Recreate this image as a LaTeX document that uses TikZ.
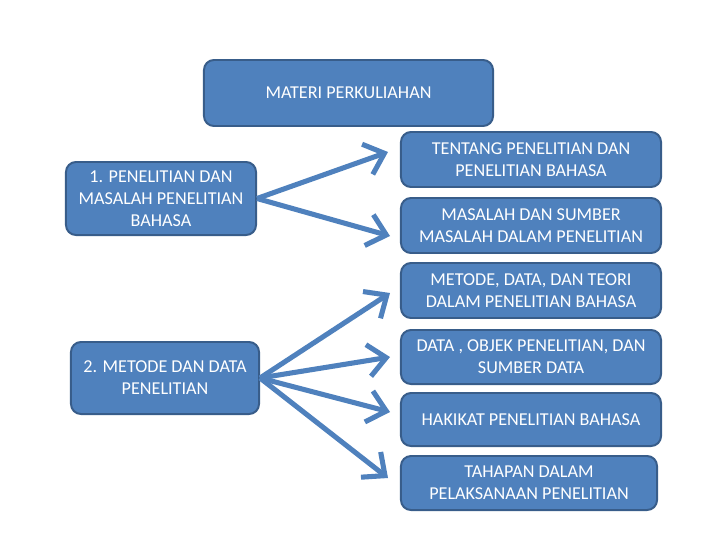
\documentclass[tikz,border=0pt]{standalone}
\usepackage{fontspec}
\setmainfont{Carlito}
\usepackage{tikz}
\usetikzlibrary{arrows.meta}

\definecolor{boxblue}{HTML}{4F81BD}
\definecolor{boxline}{HTML}{385D8A}

\tikzset{
	topic/.style={rectangle,rounded corners=0.25cm,draw=boxline,line width=1.4pt,fill=boxblue,
		text=white,align=center,inner sep=2pt,font=\fontsize{12.9}{15.6}\selectfont},
	link/.style={draw=boxblue,line width=3.6pt,-{Straight Barb[length=0.45cm,width=0.8cm,line width=3.6pt]}}
}

\begin{document}
\begin{tikzpicture}[x=0.025cm,y=-0.025cm]
		\useasboundingbox (0,0) rectangle (720,540);
		% judul
		\node[topic,minimum width=7.225cm,minimum height=1.65cm] (materi) at (348.5,93) {MATERI PERKULIAHAN};
		% pokok bahasan
		\node[topic,minimum width=4.75cm,minimum height=1.825cm] (pokok1) at (161,198.5) {1. PENELITIAN DAN\\MASALAH PENELITIAN\\BAHASA};
		\node[topic,minimum width=4.7cm,minimum height=1.8cm] (pokok2) at (165,378) {2. METODE DAN DATA\\PENELITIAN};
		% sub pokok bahasan
		\node[topic,minimum width=6.5cm,minimum height=1.375cm] (tentang) at (531,159.5) {TENTANG PENELITIAN DAN\\PENELITIAN BAHASA};
		\node[topic,minimum width=6.5cm,minimum height=1.375cm] (masalah) at (531,225.5) {MASALAH DAN SUMBER\\MASALAH DALAM PENELITIAN};
		\node[topic,minimum width=6.5cm,minimum height=1.375cm] (metode) at (531,290.5) {METODE, DATA, DAN TEORI\\DALAM PENELITIAN BAHASA};
		\node[topic,minimum width=6.5cm,minimum height=1.35cm] (data) at (531,357) {DATA , OBJEK PENELITIAN, DAN\\SUMBER DATA};
		\node[topic,minimum width=6.5cm,minimum height=1.325cm] (hakikat) at (531,419.5) {HAKIKAT PENELITIAN BAHASA};
		\node[topic,minimum width=6.4cm,minimum height=1.35cm] (tahapan) at (529,483) {TAHAPAN DALAM\\PELAKSANAAN PENELITIAN};
		% ujung panah
		\coordinate (ujung1) at (388,152);
		\coordinate (ujung2) at (390,236);
		\coordinate (ujung3) at (390,293);
		\coordinate (ujung4) at (390,357);
		\coordinate (ujung5) at (390,412);
		\coordinate (ujung6) at (388,478);
		\draw[link] (pokok1.east) -- (ujung1);
		\draw[link] (pokok1.east) -- (ujung2);
		\draw[link] (pokok2.east) -- (ujung3);
		\draw[link] (pokok2.east) -- (ujung4);
		\draw[link] (pokok2.east) -- (ujung5);
		\draw[link] (pokok2.east) -- (ujung6);
	\end{tikzpicture}
\end{document}
